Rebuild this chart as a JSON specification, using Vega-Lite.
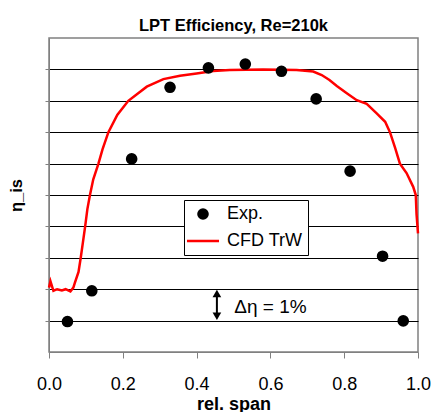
{
  "$schema": "https://vega.github.io/schema/vega-lite/v6.json",
  "width": 369,
  "height": 314,
  "autosize": {"type": "none"},
  "padding": {"left": 49, "top": 38, "right": 15, "bottom": 60},
  "background": "white",
  "title": {"text": "LPT Efficiency, Re=210k", "fontSize": 16.5, "fontWeight": "bold", "font": "Liberation Sans", "color": "black", "offset": 4, "anchor": "middle"},
  "config": {
    "view": {"stroke": "#808080", "strokeWidth": 1.5},
    "axis": {"labelFont": "Liberation Sans", "titleFont": "Liberation Sans", "labelColor": "black", "titleColor": "black"}
  },
  "datasets": {
    "exp": [
      {"span": 0.050, "eta": 0.97, "series": "Exp."},
      {"span": 0.116, "eta": 1.95, "series": "Exp."},
      {"span": 0.224, "eta": 6.15, "series": "Exp."},
      {"span": 0.328, "eta": 8.43, "series": "Exp."},
      {"span": 0.432, "eta": 9.05, "series": "Exp."},
      {"span": 0.532, "eta": 9.17, "series": "Exp."},
      {"span": 0.630, "eta": 8.94, "series": "Exp."},
      {"span": 0.724, "eta": 8.06, "series": "Exp."},
      {"span": 0.816, "eta": 5.76, "series": "Exp."},
      {"span": 0.904, "eta": 3.05, "series": "Exp."},
      {"span": 0.960, "eta": 0.99, "series": "Exp."}
    ],
    "cfd": [
      {"span": 0.000, "eta": 2.05, "series": "CFD TrW"},
      {"span": 0.004, "eta": 2.25, "series": "CFD TrW"},
      {"span": 0.012, "eta": 1.95, "series": "CFD TrW"},
      {"span": 0.022, "eta": 2.00, "series": "CFD TrW"},
      {"span": 0.035, "eta": 1.96, "series": "CFD TrW"},
      {"span": 0.045, "eta": 2.00, "series": "CFD TrW"},
      {"span": 0.058, "eta": 1.93, "series": "CFD TrW"},
      {"span": 0.066, "eta": 2.05, "series": "CFD TrW"},
      {"span": 0.070, "eta": 2.20, "series": "CFD TrW"},
      {"span": 0.080, "eta": 2.55, "series": "CFD TrW"},
      {"span": 0.086, "eta": 3.00, "series": "CFD TrW"},
      {"span": 0.092, "eta": 3.50, "series": "CFD TrW"},
      {"span": 0.098, "eta": 4.00, "series": "CFD TrW"},
      {"span": 0.104, "eta": 4.55, "series": "CFD TrW"},
      {"span": 0.111, "eta": 5.00, "series": "CFD TrW"},
      {"span": 0.120, "eta": 5.50, "series": "CFD TrW"},
      {"span": 0.134, "eta": 6.00, "series": "CFD TrW"},
      {"span": 0.145, "eta": 6.45, "series": "CFD TrW"},
      {"span": 0.161, "eta": 7.00, "series": "CFD TrW"},
      {"span": 0.185, "eta": 7.55, "series": "CFD TrW"},
      {"span": 0.215, "eta": 8.00, "series": "CFD TrW"},
      {"span": 0.265, "eta": 8.45, "series": "CFD TrW"},
      {"span": 0.310, "eta": 8.69, "series": "CFD TrW"},
      {"span": 0.355, "eta": 8.80, "series": "CFD TrW"},
      {"span": 0.400, "eta": 8.87, "series": "CFD TrW"},
      {"span": 0.445, "eta": 8.95, "series": "CFD TrW"},
      {"span": 0.490, "eta": 8.98, "series": "CFD TrW"},
      {"span": 0.580, "eta": 9.00, "series": "CFD TrW"},
      {"span": 0.671, "eta": 8.98, "series": "CFD TrW"},
      {"span": 0.716, "eta": 8.93, "series": "CFD TrW"},
      {"span": 0.739, "eta": 8.82, "series": "CFD TrW"},
      {"span": 0.760, "eta": 8.66, "series": "CFD TrW"},
      {"span": 0.780, "eta": 8.47, "series": "CFD TrW"},
      {"span": 0.807, "eta": 8.24, "series": "CFD TrW"},
      {"span": 0.834, "eta": 8.02, "series": "CFD TrW"},
      {"span": 0.861, "eta": 7.90, "series": "CFD TrW"},
      {"span": 0.888, "eta": 7.60, "series": "CFD TrW"},
      {"span": 0.911, "eta": 7.33, "series": "CFD TrW"},
      {"span": 0.924, "eta": 7.00, "series": "CFD TrW"},
      {"span": 0.938, "eta": 6.50, "series": "CFD TrW"},
      {"span": 0.951, "eta": 6.00, "series": "CFD TrW"},
      {"span": 0.969, "eta": 5.70, "series": "CFD TrW"},
      {"span": 0.987, "eta": 5.26, "series": "CFD TrW"},
      {"span": 0.994, "eta": 5.00, "series": "CFD TrW"},
      {"span": 0.996, "eta": 4.40, "series": "CFD TrW"},
      {"span": 1.000, "eta": 3.78, "series": "CFD TrW"}
    ],
    "arrow": [{"span": 0.455, "lo": 1.12, "hi": 1.88, "up": 1.86, "down": 1.14}],
    "note": [{"span": 0.502, "eta": 1.42, "label": "Δη = 1%"}]
  },
  "layer": [
    {
      "data": {"name": "cfd"},
      "mark": {"type": "line", "strokeWidth": 2.5},
      "encoding": {
        "x": {"field": "span", "type": "quantitative", "scale": {"domain": [0, 1], "nice": false},
          "axis": {"values": [0, 0.2, 0.4, 0.6, 0.8, 1], "tickCount": 10, "format": ".1f", "grid": false, "tickSize": 6, "tickColor": "#808080", "domainColor": "#808080", "labelFontSize": 18, "labelPadding": 17, "labelFlush": false, "title": "rel. span", "titleFontSize": 18, "titleFontWeight": "bold", "titlePadding": 2}},
        "y": {"field": "eta", "type": "quantitative", "scale": {"domain": [0, 10], "nice": false},
          "axis": {"values": [1, 2, 3, 4, 5, 6, 7, 8, 9], "tickCount": 20, "labels": false, "grid": true, "gridColor": "black", "gridWidth": 1, "tickSize": 4, "tickColor": "#808080", "domainColor": "#808080", "title": "η_is", "titleFontSize": 16.5, "titleFontWeight": "bold", "titlePadding": 20}},
        "color": {"field": "series", "type": "nominal", "scale": {"domain": ["Exp.", "CFD TrW"], "range": ["black", "red"]},
          "legend": {"orient": "none", "legendX": 135, "legendY": 162, "title": null, "strokeColor": "black", "fillColor": "white", "padding": 5, "labelFont": "Liberation Sans", "labelFontSize": 18, "labelColor": "black", "labelOffset": 15, "symbolOffset": 5, "rowPadding": 9,
            "encode": {"symbols": {"update": {"stroke": {"scale": "color", "field": "value"}, "strokeWidth": {"signal": "datum.value === 'Exp.' ? 0 : 2.5"}}}}}}
      }
    },
    {
      "data": {"name": "exp"},
      "mark": {"type": "point", "filled": true, "opacity": 1},
      "encoding": {
        "x": {"field": "span", "type": "quantitative"},
        "y": {"field": "eta", "type": "quantitative"},
        "color": {"field": "series", "type": "nominal"},
        "shape": {"field": "series", "type": "nominal", "scale": {"domain": ["Exp.", "CFD TrW"], "range": ["circle", "M-1.78,0H1.78"]}},
        "size": {"field": "series", "type": "nominal", "scale": {"type": "ordinal", "domain": ["Exp.", "CFD TrW"], "range": [135, 324]}}
      }
    },
    {
      "data": {"name": "arrow"},
      "mark": {"type": "rule", "strokeWidth": 2, "color": "black"},
      "encoding": {
        "x": {"field": "span", "type": "quantitative"},
        "y": {"field": "lo", "type": "quantitative"},
        "y2": {"field": "hi"}
      }
    },
    {
      "data": {"name": "arrow"},
      "mark": {"type": "point", "shape": "triangle-up", "filled": true, "color": "black", "size": 75, "opacity": 1},
      "encoding": {
        "x": {"field": "span", "type": "quantitative"},
        "y": {"field": "up", "type": "quantitative"}
      }
    },
    {
      "data": {"name": "arrow"},
      "mark": {"type": "point", "shape": "triangle-down", "filled": true, "color": "black", "size": 75, "opacity": 1},
      "encoding": {
        "x": {"field": "span", "type": "quantitative"},
        "y": {"field": "down", "type": "quantitative"}
      }
    },
    {
      "data": {"name": "note"},
      "mark": {"type": "text", "align": "left", "baseline": "middle", "font": "Liberation Sans", "fontSize": 19, "color": "black"},
      "encoding": {
        "x": {"field": "span", "type": "quantitative"},
        "y": {"field": "eta", "type": "quantitative"},
        "text": {"field": "label"}
      }
    }
  ]
}
